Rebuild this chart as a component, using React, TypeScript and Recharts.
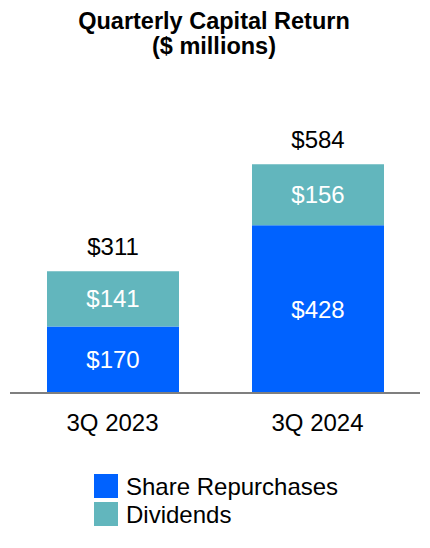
import { BarChart, Bar, XAxis, YAxis, LabelList } from 'recharts';

const quarters = ['3Q 2023', '3Q 2024'];
const repurchases = [170, 428];
const dividends = [141, 156];
const totals = [311, 584];

const BLUE = '#0062ff';
const TEAL = '#62b6bd';
const FONT = '"Liberation Sans", Arial, sans-serif';
const SIZE = 24;

const data = quarters.map((q, i) => ({
  quarter: q,
  repurchases: repurchases[i],
  dividends: dividends[i],
  total: totals[i],
}));

const money = (v: number) => `$${v}`;

const legendItems = [
  { label: 'Share Repurchases', color: BLUE },
  { label: 'Dividends', color: TEAL },
];

export default function App() {
  return (
    <div style={{ position: 'relative', width: 430, height: 548, fontFamily: FONT, background: '#fff' }}>
      <style>{`body{margin:0}`}</style>
      <div
        style={{
          position: 'absolute',
          top: 9,
          left: 0,
          width: 428,
          textAlign: 'center',
          fontWeight: 'bold',
          fontSize: 23.5,
          lineHeight: '25px',
          color: '#000',
        }}
      >
        Quarterly Capital Return
        <br />
        ($ millions)
      </div>

      <BarChart
        width={430}
        height={548}
        data={data}
        margin={{ top: 158, right: 10, bottom: 115, left: 10 }}
      >
        <YAxis hide domain={[0, 600]} />
        <XAxis
          dataKey="quarter"
          height={40}
          tickLine={false}
          tickSize={0}
          tickMargin={21}
          axisLine={{ stroke: '#7f7f7f', strokeWidth: 2 }}
          tick={{ fill: '#000', fontSize: SIZE, fontFamily: FONT }}
        />
        <Bar dataKey="repurchases" stackId="a" fill={BLUE} barSize={132} isAnimationActive={false}>
          <LabelList
            dataKey="repurchases"
            position="center"
            formatter={money}
            fill="#fff"
            fontSize={SIZE}
            fontFamily={FONT}
          />
        </Bar>
        <Bar dataKey="dividends" stackId="a" fill={TEAL} barSize={132} isAnimationActive={false}>
          <LabelList
            dataKey="dividends"
            position="center"
            formatter={money}
            fill="#fff"
            fontSize={SIZE}
            fontFamily={FONT}
          />
          <LabelList
            dataKey="total"
            position="top"
            offset={16}
            formatter={money}
            fill="#000"
            fontSize={SIZE}
            fontFamily={FONT}
          />
        </Bar>
      </BarChart>

      <div style={{ position: 'absolute', top: 473, left: 94 }}>
        {legendItems.map((item) => (
          <div key={item.label} style={{ display: 'flex', alignItems: 'flex-start', height: 28 }}>
            <div style={{ width: 24, height: 24, marginTop: 1, background: item.color }} />
            <span style={{ marginLeft: 8, fontSize: SIZE, lineHeight: '28px', color: '#000' }}>
              {item.label}
            </span>
          </div>
        ))}
      </div>
    </div>
  );
}
